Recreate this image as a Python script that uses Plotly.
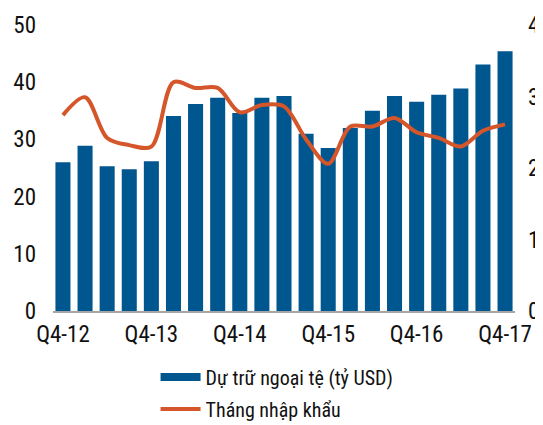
import plotly.graph_objects as go

categories = ["Q4-12", "Q1-13", "Q2-13", "Q3-13", "Q4-13", "Q1-14", "Q2-14", "Q3-14",
              "Q4-14", "Q1-15", "Q2-15", "Q3-15", "Q4-15", "Q1-16", "Q2-16", "Q3-16",
              "Q4-16", "Q1-17", "Q2-17", "Q3-17", "Q4-17"]
reserves = [26.0, 28.9, 25.3, 24.8, 26.2, 34.1, 36.2, 37.3, 34.6, 37.3, 37.6,
            31.0, 28.5, 32.0, 35.0, 37.6, 36.6, 37.8, 38.9, 43.1, 45.4]
import_months = [2.74, 2.99, 2.42, 2.32, 2.30, 3.20, 3.12, 3.12, 2.78, 2.88, 2.86,
                 2.40, 2.06, 2.58, 2.58, 2.70, 2.50, 2.42, 2.30, 2.52, 2.61]
tick_labels = ["Q4-12", "Q4-13", "Q4-14", "Q4-15", "Q4-16", "Q4-17"]

FONT = "Liberation Sans Narrow, Roboto Condensed, DejaVu Sans Condensed, Roboto, sans-serif"
BLUE = "#00568F"
ORANGE = "#D4562A"

# the page body adds an 8px offset; the figure is sized to fill the 543x425 window
fig = go.Figure()
fig.add_trace(go.Bar(x=categories, y=reserves, name="Dự trữ ngoại tệ (tỷ USD)",
                     marker=dict(color=BLUE, line=dict(width=0)), yaxis="y",
                     showlegend=False))
fig.add_trace(go.Scatter(x=[None], y=[None], name="Dự trữ ngoại tệ (tỷ USD)",
                         mode="lines", line=dict(color=BLUE, width=8),
                         legendgroup="a", showlegend=True))
fig.add_trace(go.Scatter(x=categories, y=import_months, name="Tháng nhập khẩu",
                         mode="lines", line=dict(color=ORANGE, width=4, shape="spline", smoothing=0.9),
                         yaxis="y2", legendgroup="b"))

fig.update_layout(
    width=535, height=417,
    margin=dict(l=45, r=28, t=17, b=114, autoexpand=False),
    paper_bgcolor="white", plot_bgcolor="white",
    font=dict(family=FONT, size=23, color="#111111"),
    bargap=0.32,
    showlegend=True,
    legend=dict(orientation="v", x=0.222, xanchor="left", y=-0.163, yanchor="top",
                font=dict(size=20, family=FONT), tracegroupgap=3, itemwidth=40,
                bgcolor="rgba(0,0,0,0)"),
    xaxis=dict(type="category", tickmode="array", tickvals=tick_labels, ticktext=tick_labels,
               range=[-0.45, 20.45],
               showline=True, linecolor="#A6A6A6", linewidth=2, ticks="",
               showgrid=False, tickfont=dict(size=23, family=FONT), ticklabelstandoff=1,
               automargin=False),
    yaxis=dict(range=[0, 50], tickvals=[0, 10, 20, 30, 40, 50], showgrid=False,
               zeroline=False, showline=False, ticks="", tickfont=dict(size=23, family=FONT),
               ticklabelstandoff=16, automargin=False),
    yaxis2=dict(range=[0, 4], tickvals=[0, 1, 2, 3, 4], overlaying="y", side="right",
                showgrid=False, zeroline=False, showline=False, ticks="",
                tickfont=dict(size=23, family=FONT), ticklabelstandoff=12, automargin=False),
)

fig.write_html("out.html")
